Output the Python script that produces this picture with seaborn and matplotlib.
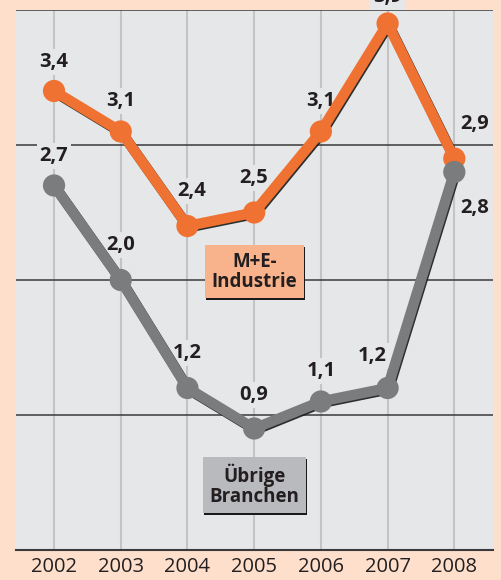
import matplotlib
matplotlib.use('Agg')
import matplotlib.pyplot as plt
import matplotlib.patheffects as pe
import pandas as pd
import seaborn as sns

# data
years = [2002, 2003, 2004, 2005, 2006, 2007, 2008]
me_industrie = [3.4, 3.1, 2.4, 2.5, 3.1, 3.9, 2.9]
uebrige = [2.7, 2.0, 1.2, 0.9, 1.1, 1.2, 2.8]
series_names = ['M+E-\nIndustrie', 'Übrige\nBranchen']

# styling
outer_bg = '#fddfcb'
plot_bg = '#e6e7e9'
colors = {'M+E-\nIndustrie': '#f07232', 'Übrige\nBranchen': '#7b7c7e'}
box_colors = {'M+E-\nIndustrie': '#f9b38c', 'Übrige\nBranchen': '#b9babd'}
# label offsets in points (dx, dy)
me_offsets = [(0, 21), (0, 22), (3, 25), (0, 25), (0, 22), (0, 19), (15, 25)]
ub_offsets = [(0, 21), (0, 25), (0, 25), (0, 24), (0, 22), (-11, 23), (15, -26)]
box_y = [2.06, 0.48]

df = pd.concat([
    pd.DataFrame({'year': years, 'value': me_industrie, 'series': series_names[0]}),
    pd.DataFrame({'year': years, 'value': uebrige, 'series': series_names[1]}),
], ignore_index=True)

sns.set_style('white')
plt.rcParams['font.family'] = ['Open Sans', 'DejaVu Sans']

fig = plt.figure(figsize=(5.01, 5.8), dpi=100, facecolor=outer_bg)
ax = fig.add_axes([16/501, 30/580, 477/501, 540/580])
ax.set_facecolor(plot_bg)

shadow = [pe.SimpleLineShadow(offset=(0.8, -1.0), shadow_color='#1a1a1a', alpha=0.9),
          pe.Normal()]

for name in series_names:
    sub = df[df.series == name]
    sns.lineplot(ax=ax, data=sub, x='year', y='value', color=colors[name],
                 lw=7.5, marker='o', markersize=16, markeredgewidth=0,
                 zorder=5, legend=False,
                 path_effects=shadow)

# value labels
for vals, offs in [(me_industrie, me_offsets), (uebrige, ub_offsets)]:
    for x, v, (dx, dy) in zip(years, vals, offs):
        ax.annotate(f'{v:.1f}'.replace('.', ','), (x, v), xytext=(dx, dy),
                    textcoords='offset points', ha='center', va='center',
                    fontsize=14.5, fontweight='bold', color='#231f20',
                    bbox=dict(boxstyle='square,pad=0.15', fc=plot_bg, ec='none'),
                    zorder=4, annotation_clip=False)

# series name boxes
for name, yb in zip(series_names, box_y):
    t = ax.text(2005, yb, name, ha='center', va='center', fontsize=13.5,
                fontweight='bold', color='#231f20', linespacing=1.0,
                bbox=dict(boxstyle='square,pad=0.35', fc=box_colors[name], ec='none'),
                zorder=6)
    t.get_bbox_patch().set_path_effects([
        pe.SimplePatchShadow(offset=(1.2, -1.2), shadow_rgbFace='#1a1a1a', alpha=1),
        pe.Normal()])

# grid
for x in years:
    ax.axvline(x, color='#c3c4c6', lw=1.5, zorder=1)
for y in [1, 2, 3, 4]:
    ax.axhline(y, color='#3a3a3a', lw=1.1, zorder=2)

ax.set_xlim(2001.43, 2008.58)
ax.set_ylim(0, 4)
ax.set_xticks(years)
ax.set_xticklabels([str(y) for y in years])
ax.set_yticks([])
ax.set_xlabel('')
ax.set_ylabel('')
ax.tick_params(axis='x', length=0, pad=5, labelsize=14.5, colors='#231f20')
sns.despine(ax=ax, left=True, right=True, top=True)
ax.spines['bottom'].set_color('#3a3a3a')
ax.spines['bottom'].set_linewidth(1.5)

fig.savefig('out.png', dpi=100, facecolor=outer_bg)
